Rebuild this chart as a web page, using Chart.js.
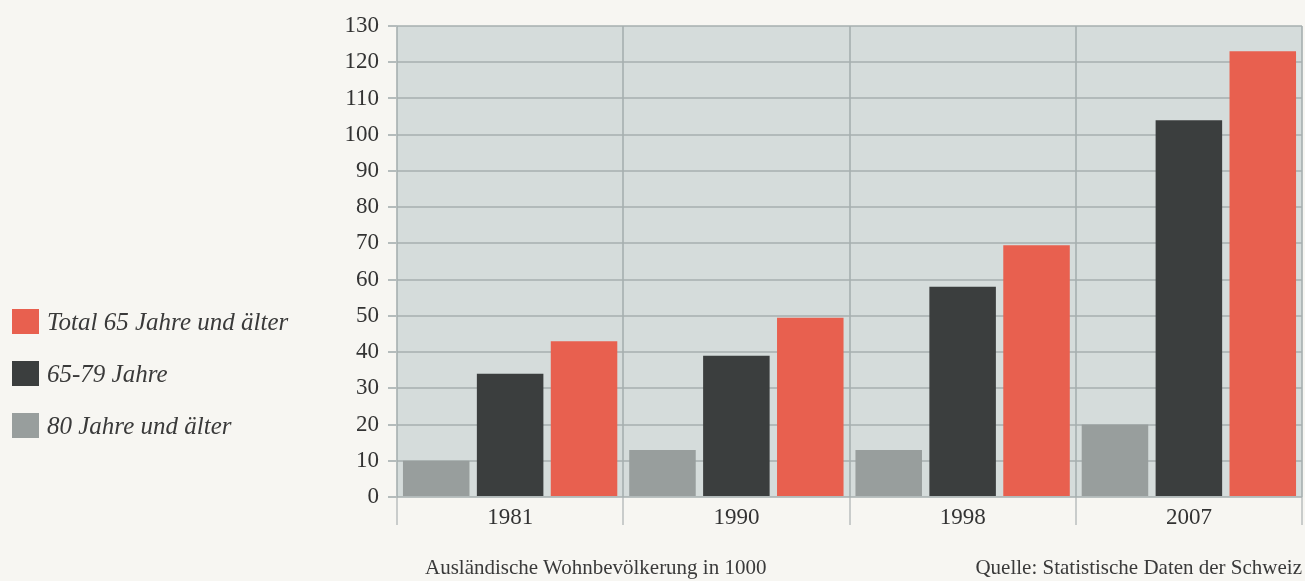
<!DOCTYPE html>
<html lang="de">
<head>
<meta charset="UTF-8">
<title>Ausländische Wohnbevölkerung 65+</title>
<script src="https://cdn.jsdelivr.net/npm/chart.js"></script>
<style>
  body { margin: 0; background: #f7f6f2; font-family: "Liberation Serif", "DejaVu Serif", serif; }
  #wrap { position: relative; width: 1305px; height: 581px; }
  #legend { position: absolute; left: 12px; top: 309px; }
  .item { display: flex; align-items: center; height: 25px; margin-bottom: 27px; font-style: italic; font-size: 25px; color: #3a3a3a; }
  .box { width: 27px; height: 25px; margin-right: 8px; }
  .note { position: absolute; top: 555px; font-size: 21px; color: #3a3a3a; white-space: nowrap; }
</style>
</head>
<body>
<div id="wrap">
  <canvas id="chart" width="1305" height="581"></canvas>
  <div id="legend"></div>
  <div class="note" style="left:425px">Ausländische Wohnbevölkerung in 1000</div>
  <div class="note" style="right:3px">Quelle: Statistische Daten der Schweiz</div>
</div>
<script>
var years = ["1981", "1990", "1998", "2007"];
var over80 = [10, 13, 13, 20];
var age6579 = [34, 39, 58, 104];
var total65 = [43, 49.5, 69.5, 123];
var seriesNames = ["80 Jahre und älter", "65-79 Jahre", "Total 65 Jahre und älter"];
var seriesColors = ["#989e9d", "#3b3e3e", "#e8604f"];

// plot background
var plotBg = {
    id: 'plotBg',
    beforeDraw: function(chart) {
        var a = chart.chartArea, c = chart.ctx;
        c.save();
        c.fillStyle = '#d5dcdb';
        c.fillRect(a.left, a.top, a.right - a.left, a.bottom - a.top);
        c.restore();
    }
};

var chart = new Chart(document.getElementById('chart'), {
    type: 'bar',
    data: {
        labels: years,
        datasets: [over80, age6579, total65].map(function(d, i) {
            return { label: seriesNames[i], data: d, backgroundColor: seriesColors[i],
                     categoryPercentage: 0.98, barPercentage: 0.9 };
        })
    },
    options: {
        responsive: false,
        animation: false,
        layout: { padding: { top: 26, right: 3, left: 0, bottom: 0 } },
        plugins: { legend: { display: false }, tooltip: { enabled: false } },
        scales: {
            x: {
                z: 1,
                grid: { color: 'rgba(165,175,175,0.8)', lineWidth: 2, tickLength: 28, tickColor: '#c9cccb' },
                border: { display: false },
                ticks: { color: '#333', font: { family: 'Liberation Serif', size: 23 }, padding: -21 },
                afterFit: function(s) { s.height = 84; }
            },
            y: {
                z: 1,
                min: 0, max: 130,
                grid: { color: 'rgba(165,175,175,0.75)', lineWidth: 2, tickLength: 9, tickColor: '#b5bcbc' },
                border: { display: false },
                ticks: { stepSize: 10, color: '#333', font: { family: 'Liberation Serif', size: 23 }, padding: 9 },
                afterFit: function(s) { s.width = 397; }
            }
        }
    },
    plugins: [plotBg]
});

// legend (reversed order like the original)
var lg = document.getElementById('legend');
for (var i = seriesNames.length - 1; i >= 0; i--) {
    var it = document.createElement('div');
    it.className = 'item';
    it.innerHTML = '<span class="box" style="background:' + seriesColors[i] + '"></span>' + seriesNames[i];
    lg.appendChild(it);
}
</script>
</body>
</html>
